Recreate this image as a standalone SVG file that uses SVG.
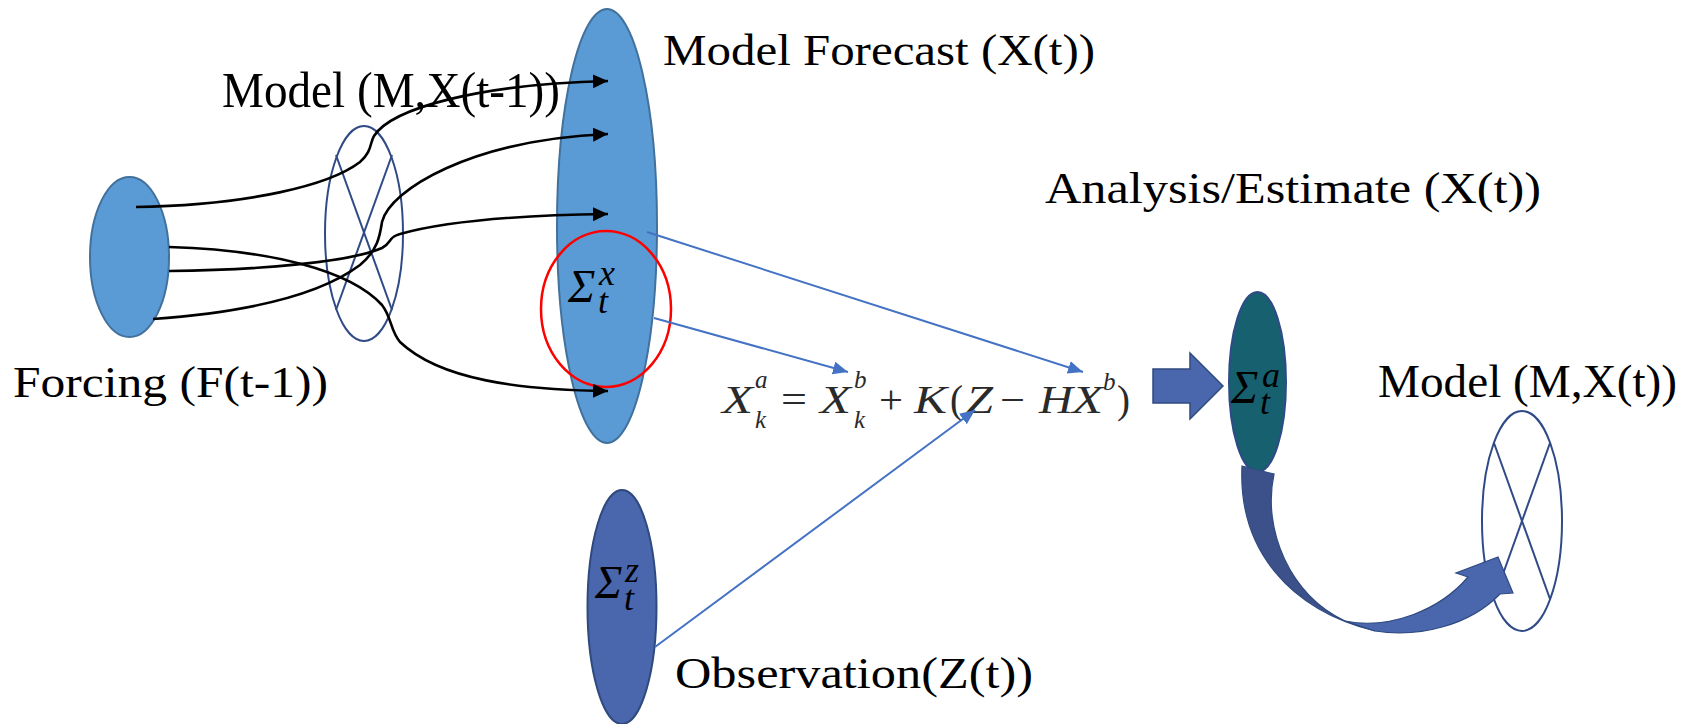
<svg xmlns="http://www.w3.org/2000/svg" width="1692" height="724" viewBox="0 0 1692 724">
<style>
.lbl{font-family:"Liberation Serif",serif;font-size:44px;fill:#000}
.sig{font-family:"Liberation Serif",serif;font-style:italic;font-size:46px;fill:#000}
.it{font-family:"Liberation Serif",serif;font-style:italic;font-size:36px;fill:#000}
.eq{font-family:"Liberation Serif",serif;font-style:italic;font-size:39px;fill:#2a2a2a}
.eqs{font-family:"Liberation Serif",serif;font-style:italic;font-size:25px;fill:#2a2a2a}
.eqn{font-family:"Liberation Serif",serif;font-size:39px;fill:#2a2a2a}
.blk{fill:none;stroke:#000;stroke-width:2.6}
.blu{fill:none;stroke:#4472C4;stroke-width:2}
.mdl{fill:#fff;stroke:#2F4A86;stroke-width:2}
.mx{stroke:#2F4A86;stroke-width:2}
</style>
<defs>
<marker id="ah" markerUnits="userSpaceOnUse" markerWidth="18" markerHeight="16" refX="15" refY="7" orient="auto">
<path d="M0,0 L15,7 L0,14 Z" fill="#000"/>
</marker>
<marker id="bh" markerUnits="userSpaceOnUse" markerWidth="18" markerHeight="16" refX="15" refY="6.5" orient="auto">
<path d="M0,0 L15,6.5 L0,13 Z" fill="#4472C4"/>
</marker>
</defs>

<g id="forcing">
<ellipse cx="129.5" cy="257" rx="39.5" ry="80" fill="#5B9BD5" stroke="#41719C" stroke-width="2"/>
<text class="lbl" x="13" y="397" textLength="315" lengthAdjust="spacingAndGlyphs">Forcing (F(t-1))</text>
</g>

<g id="model-prev">
<ellipse class="mdl" cx="364" cy="233.5" rx="39" ry="107.5"/>
<line class="mx" x1="336" y1="155" x2="392" y2="310"/>
<line class="mx" x1="392" y1="155" x2="336" y2="310"/>
<text class="lbl" x="222" y="107" style="font-size:50px" textLength="338" lengthAdjust="spacingAndGlyphs">Model (M,X(t-1))</text>
</g>

<g id="forecast">
<ellipse cx="607" cy="226" rx="50" ry="217" fill="#5B9BD5" stroke="#41719C" stroke-width="2"/>
<text class="lbl" x="663" y="65" textLength="432" lengthAdjust="spacingAndGlyphs">Model Forecast (X(t))</text>
</g>

<g id="sigma-x">
<ellipse cx="606" cy="309" rx="65" ry="78" fill="none" stroke="#FF0000" stroke-width="2.5"/>
<text class="sig" x="568" y="302">Σ</text>
<text class="it" x="599" y="285">x</text>
<text class="it" x="598" y="313">t</text>
</g>

<g id="observation">
<ellipse cx="622" cy="607" rx="34.5" ry="117" fill="#4A66AC" stroke="#2F4A7F" stroke-width="2"/>
<text class="sig" x="595" y="598">Σ</text>
<text class="it" x="625" y="582">z</text>
<text class="it" x="624" y="610">t</text>
<text class="lbl" x="675" y="688" textLength="358" lengthAdjust="spacingAndGlyphs">Observation(Z(t))</text>
</g>

<g id="equation">
<text class="eq" x="722" y="413" textLength="31" lengthAdjust="spacingAndGlyphs">X</text>
<text class="eqs" x="755" y="388">a</text>
<text class="eqs" x="755" y="428">k</text>
<text class="eqn" x="781" y="413" textLength="26" lengthAdjust="spacingAndGlyphs">=</text>
<text class="eq" x="820" y="413" textLength="31" lengthAdjust="spacingAndGlyphs">X</text>
<text class="eqs" x="854" y="388">b</text>
<text class="eqs" x="854" y="428">k</text>
<text class="eqn" x="879" y="413" textLength="24" lengthAdjust="spacingAndGlyphs">+</text>
<text class="eq" x="914" y="413" textLength="33" lengthAdjust="spacingAndGlyphs">K</text>
<text class="eqn" x="950" y="413">(</text>
<text class="eq" x="966" y="413" textLength="27" lengthAdjust="spacingAndGlyphs">Z</text>
<text class="eqn" x="1000" y="413" textLength="25" lengthAdjust="spacingAndGlyphs">−</text>
<text class="eq" x="1039" y="413" textLength="34" lengthAdjust="spacingAndGlyphs">H</text>
<text class="eq" x="1072" y="413" textLength="31" lengthAdjust="spacingAndGlyphs">X</text>
<text class="eqs" x="1103" y="390">b</text>
<text class="eqn" x="1117" y="413">)</text>
</g>

<g id="block-arrow">
<path d="M1153,369 L1190,369 L1190,353 L1223,386 L1190,419 L1190,403 L1153,403 Z" fill="#4A66AC" stroke="#2F4A7F" stroke-width="1.5"/>
</g>

<g id="analysis">
<ellipse cx="1257.5" cy="382" rx="28.5" ry="90" fill="#17606F" stroke="#2F4A86" stroke-width="2"/>
<text class="sig" x="1231" y="403">Σ</text>
<text class="it" x="1262" y="387">a</text>
<text class="it" x="1260" y="414">t</text>
<text class="lbl" x="1045" y="203" textLength="496" lengthAdjust="spacingAndGlyphs">Analysis/Estimate (X(t))</text>
</g>

<g id="model-next">
<ellipse class="mdl" cx="1522" cy="521" rx="40" ry="110"/>
<line class="mx" x1="1494" y1="443" x2="1550" y2="599"/>
<line class="mx" x1="1550" y1="443" x2="1494" y2="599"/>
<text class="lbl" x="1378" y="397" style="font-size:46px" textLength="299" lengthAdjust="spacingAndGlyphs">Model (M,X(t))</text>
</g>

<g id="curved-arrow">
<path d="M1242,466 L1274,474 C1262,530 1290,595 1345,621 L1375,631 C1290,610 1238,550 1242,466 Z" fill="#3C5189" stroke="#2F4A80" stroke-width="1.2"/>
<path d="M1345,621 C1390,630 1440,610 1468,577 L1456,573 L1498,557 L1513,593 L1500,594 C1470,625 1420,638 1375,631 Z" fill="#4A67AE" stroke="#2F4A80" stroke-width="1.2"/>
</g>

<g id="connectors">
<path class="blk" marker-end="url(#ah)" d="M136,207 C250,205 330,185 360,162 C372,152 370,142 374,136 C392,108 480,84 608,81"/>
<path class="blk" marker-end="url(#ah)" d="M153,319 C250,312 320,295 360,265 C378,250 380,235 382,222 C390,190 470,140 608,134"/>
<path class="blk" marker-end="url(#ah)" d="M169,271 C260,270 350,262 382,248 C392,243 388,237 400,234 C450,220 530,215 608,214"/>
<path class="blk" marker-end="url(#ah)" d="M169,247 C270,250 350,270 382,305 C392,318 390,330 400,342 C440,380 520,390 608,391"/>
<path class="blu" marker-end="url(#bh)" d="M647,232 L1083,372"/>
<path class="blu" marker-end="url(#bh)" d="M654,318 L848,372"/>
<path class="blu" marker-end="url(#bh)" d="M655,647 L975,410"/>
</g>
</svg>
